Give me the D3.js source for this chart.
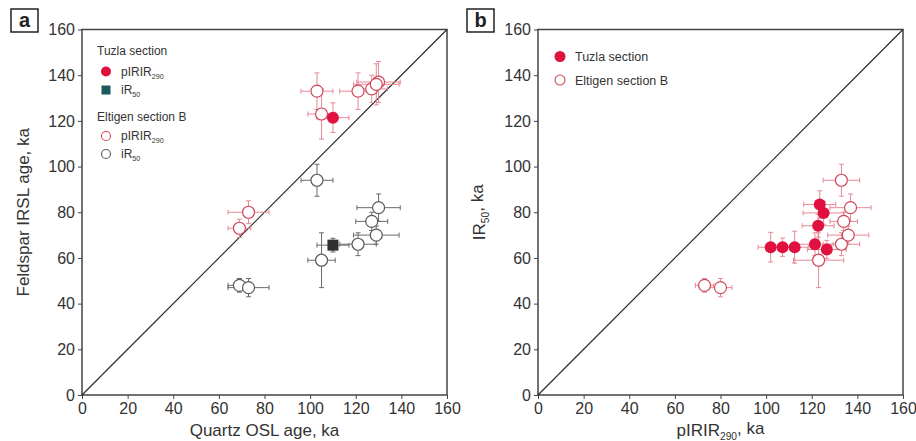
<!DOCTYPE html>
<html><head><meta charset="utf-8">
<script src="https://cdn.jsdelivr.net/npm/d3@7"></script>
<style>body{margin:0;background:#fff}svg{display:block}text{font-family:"Liberation Sans",Arial,sans-serif}</style>
</head><body><svg id="c" width="916" height="441"></svg>
<script>
const tickValues = [0,20,40,60,80,100,120,140,160];
// Panel a — Tuzla (one sample with quartz age)
const tuzlaQuartz = [110];
const tuzlaQuartzErr = [7];
const tuzlaQuartzPIRIR = [121.4];
const tuzlaQuartzPIRIRErr = [6.5];
const tuzlaQuartzIR50 = [65.6];
const tuzlaQuartzIR50Err = [3];
// Eltigen section B samples
const eltigenQuartz = [69, 73, 103, 105, 121, 127, 130, 129];
const eltigenQuartzErr = [5, 9, 7, 6, 8, 7, 9.5, 10];
const eltigenPIRIR = [73, 80, 133, 123, 133, 134, 137, 136];
const eltigenPIRIRErr = [4, 5, 8, 11, 8, 6, 9, 9];
const eltigenIR50 = [48, 47, 94, 59, 66, 76, 82, 70];
const eltigenIR50Err = [3, 4, 7, 12, 5, 4, 6, 4];
// Panel b — Tuzla section
const tuzlaPIRIR = [102, 107.2, 112.5, 121.4, 126.6, 122.8, 123.5, 125.2];
const tuzlaPIRIRErr = [5.5, 4, 6, 8, 8.5, 7, 7, 9];
const tuzlaIR50 = [64.7, 64.7, 64.7, 66, 63.7, 74.1, 83.4, 79.7];
const tuzlaIR50Err = [6.5, 4, 7, 5, 4, 5, 6, 5];

const RED = "#e0113f", REDO = "#cf4a5c", REDE = "#e58a96", GREYO = "#5a5a5a", GREYE = "#6a6a6a";
const svg = d3.select("#c");

function panel(x0, x1, label, xTitle, yTitle) {
  const g = svg.append("g");
  const x = d3.scaleLinear().domain([0,160]).range([x0, x1]);
  const y = d3.scaleLinear().domain([0,160]).range([395, 29.5]);
  const ax = g.append("g").attr("transform","translate(0,395)").call(d3.axisBottom(x).tickValues(tickValues).tickSize(4).tickPadding(4));
  const ay = g.append("g").attr("transform",`translate(${x0},0)`).call(d3.axisLeft(y).tickValues(tickValues).tickSize(4).tickPadding(3));
  [ax, ay].forEach(a => {
    a.select(".domain").remove();
    a.selectAll("line").attr("stroke","#444").attr("stroke-width",1);
    a.selectAll("text").attr("font-size",16).attr("fill","#333");
  });
  g.append("rect").attr("x",x0).attr("y",y(160)).attr("width",x1-x0).attr("height",395-y(160))
    .attr("fill","none").attr("stroke","#444").attr("stroke-width",1.5);
  g.append("line").attr("x1",x(0)).attr("y1",y(0)).attr("x2",x(160)).attr("y2",y(160)).attr("stroke","#222").attr("stroke-width",1.1);
  const lb = g.append("g");
  lb.append("rect").attr("x",x0-71).attr("y",9).attr("width",27).attr("height",23).attr("fill","#fff").attr("stroke","#222").attr("stroke-width",1.5);
  lb.append("text").attr("x",x0-57.5).attr("y",27).attr("text-anchor","middle").attr("font-size",20).attr("font-weight","bold").attr("fill","#222").text(label);
  const xt = g.append("text").attr("x",(x0+x1)/2).attr("y",436).attr("text-anchor","middle").attr("font-size",17).attr("fill","#333");
  xTitle(xt);
  const yt = g.append("text").attr("transform",`translate(${x0-53},${(29.5+395)/2}) rotate(-90)`).attr("text-anchor","middle").attr("font-size",17).attr("fill","#333");
  yTitle(yt);
  return {g, x, y};
}

function errBars(g, x, y, xs, xe, ys, ye, color) {
  const cap = 2.5;
  const gg = g.append("g").attr("stroke", color).attr("stroke-width", 1).attr("fill","none");
  xs.forEach((v,i) => {
    const cx = x(v), cy = y(ys[i]);
    const xl = x(v - xe[i]), xr = x(v + xe[i]);
    const yt = y(ys[i] + ye[i]), yb = y(ys[i] - ye[i]);
    gg.append("line").attr("x1",xl).attr("x2",xr).attr("y1",cy).attr("y2",cy);
    gg.append("line").attr("x1",xl).attr("x2",xl).attr("y1",cy-cap).attr("y2",cy+cap);
    gg.append("line").attr("x1",xr).attr("x2",xr).attr("y1",cy-cap).attr("y2",cy+cap);
    gg.append("line").attr("x1",cx).attr("x2",cx).attr("y1",yt).attr("y2",yb);
    gg.append("line").attr("y1",yt).attr("y2",yt).attr("x1",cx-cap).attr("x2",cx+cap);
    gg.append("line").attr("y1",yb).attr("y2",yb).attr("x1",cx-cap).attr("x2",cx+cap);
  });
}
function circles(g, x, y, xs, ys, fill, stroke) {
  g.append("g").selectAll("circle").data(xs).join("circle")
    .attr("cx", d => x(d)).attr("cy", (d,i) => y(ys[i])).attr("r", 6)
    .attr("fill", fill).attr("stroke", stroke).attr("stroke-width", fill === "#fff" ? 1.2 : 0);
}
function squares(g, x, y, xs, ys, fill) {
  g.append("g").selectAll("rect").data(xs).join("rect")
    .attr("x", d => x(d)-5.5).attr("y", (d,i) => y(ys[i])-5.5).attr("width",11).attr("height",11).attr("fill", fill);
}
function sub(t, main, s, rest) {
  t.append("tspan").text(main);
  t.append("tspan").attr("font-size","0.6em").attr("dy","0.35em").text(s);
  if (rest) t.append("tspan").attr("dy","-0.35em").text(rest);
}

// Panel a
const A = panel(82, 447, "a",
  t => t.text("Quartz OSL age, ka"),
  t => t.text("Feldspar IRSL age, ka"));
errBars(A.g, A.x, A.y, eltigenQuartz, eltigenQuartzErr, eltigenIR50, eltigenIR50Err, GREYE);
errBars(A.g, A.x, A.y, eltigenQuartz, eltigenQuartzErr, eltigenPIRIR, eltigenPIRIRErr, REDE);
errBars(A.g, A.x, A.y, tuzlaQuartz, tuzlaQuartzErr, tuzlaQuartzIR50, tuzlaQuartzIR50Err, GREYE);
errBars(A.g, A.x, A.y, tuzlaQuartz, tuzlaQuartzErr, tuzlaQuartzPIRIR, tuzlaQuartzPIRIRErr, REDE);
circles(A.g, A.x, A.y, eltigenQuartz, eltigenIR50, "#fff", GREYO);
circles(A.g, A.x, A.y, eltigenQuartz, eltigenPIRIR, "#fff", REDO);
squares(A.g, A.x, A.y, tuzlaQuartz, tuzlaQuartzIR50, "#2f2f2f");
circles(A.g, A.x, A.y, tuzlaQuartz, tuzlaQuartzPIRIR, RED, "none");
// Legend a
const la = A.g.append("g").attr("font-size",12).attr("fill","#333");
la.append("text").attr("x",97).attr("y",55).text("Tuzla section");
la.append("circle").attr("cx",106).attr("cy",71.5).attr("r",5).attr("fill",RED);
sub(la.append("text").attr("x",121).attr("y",76), "pIRIR", "290");
la.append("rect").attr("x",101.5).attr("y",85.5).attr("width",9).attr("height",9).attr("fill","#1d5a60");
sub(la.append("text").attr("x",121).attr("y",94), "iR", "50");
la.append("text").attr("x",97).attr("y",121).text("Eltigen section B");
la.append("circle").attr("cx",106).attr("cy",136).attr("r",4.5).attr("fill","#fff").attr("stroke",REDO).attr("stroke-width",1.1);
sub(la.append("text").attr("x",121).attr("y",140), "pIRIR", "290");
la.append("circle").attr("cx",106).attr("cy",154).attr("r",4.5).attr("fill","#fff").attr("stroke",GREYO).attr("stroke-width",1.1);
sub(la.append("text").attr("x",121).attr("y",158), "iR", "50");

// Panel b
const B = panel(538, 903, "b",
  t => sub(t, "pIRIR", "290", ", ka"),
  t => sub(t, "IR", "50", ", ka"));
errBars(B.g, B.x, B.y, eltigenPIRIR, eltigenPIRIRErr, eltigenIR50, eltigenIR50Err, REDE);
errBars(B.g, B.x, B.y, tuzlaPIRIR, tuzlaPIRIRErr, tuzlaIR50, tuzlaIR50Err, REDE);
circles(B.g, B.x, B.y, eltigenPIRIR, eltigenIR50, "#fff", REDO);
circles(B.g, B.x, B.y, tuzlaPIRIR, tuzlaIR50, RED, "none");
const lbg = B.g.append("g").attr("font-size",12.5).attr("fill","#333");
lbg.append("circle").attr("cx",560).attr("cy",56.5).attr("r",5.5).attr("fill",RED);
lbg.append("text").attr("x",575).attr("y",61).text("Tuzla section");
lbg.append("circle").attr("cx",560).attr("cy",80).attr("r",5).attr("fill","#fff").attr("stroke",REDO).attr("stroke-width",1.1);
lbg.append("text").attr("x",575).attr("y",84.5).text("Eltigen section B");
</script></body></html>
